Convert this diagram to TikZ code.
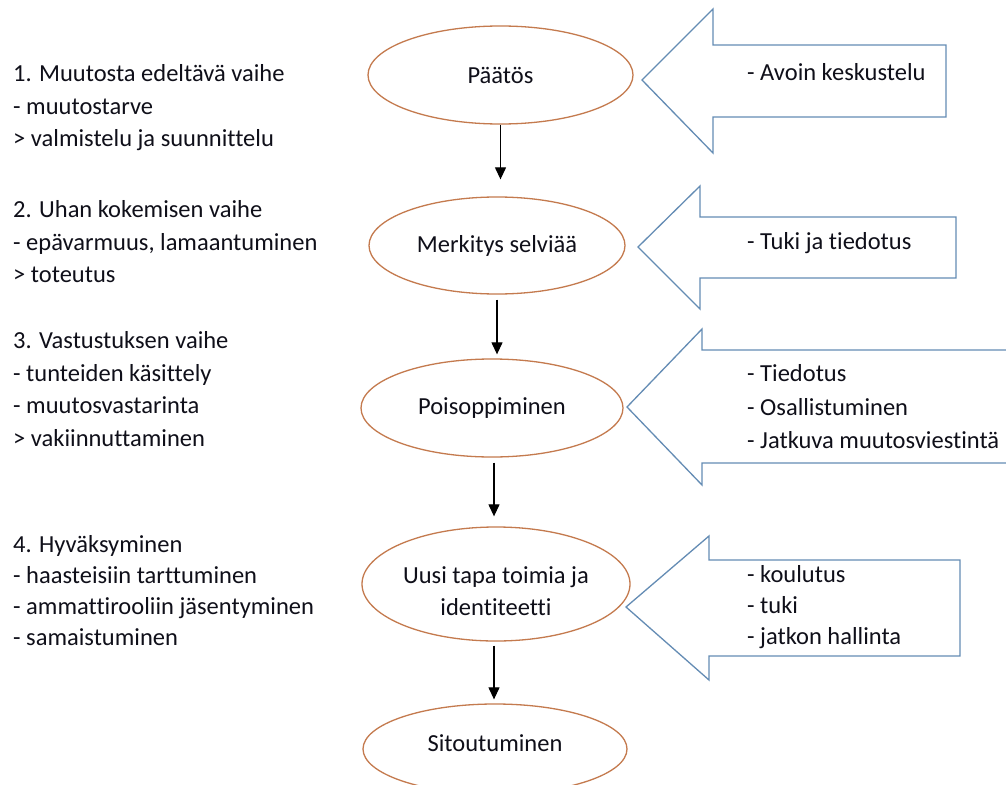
\documentclass[tikz,border=0pt]{standalone}
\usepackage{fontspec}
\setmainfont{Carlito}[Ligatures={NoCommon}]
\usetikzlibrary{shapes.geometric,arrows.meta}
\definecolor{ellc}{RGB}{196,122,78}
\definecolor{arrc}{RGB}{100,140,180}
\definecolor{txtc}{RGB}{15,15,25}
\newcommand{\dfs}[1]{\fontsize{24.5}{#1}\selectfont}
\newcommand{\firstl}{\rule{0pt}{20pt}}
\tikzset{
  ell/.style={ellipse, draw=ellc, line width=1.3pt, inner sep=0pt, fill=white, text=txtc, font=\dfs{32}, align=center},
  conn/.style={-{Triangle[width=11pt,length=12pt]}, line width=1.2pt, black},
  barrow/.style={draw=arrc, line width=1.3pt, line join=miter},
  txt/.style={anchor=north west, inner sep=0pt, align=left, text=txtc}
}
\begin{document}
\begin{tikzpicture}[x=1pt,y=-1pt]
\useasboundingbox[fill=white] (0,0) rectangle (1006,784);

% left column
\node[txt, font=\dfs{32.5}] (l1) at (13,61.5) {\firstl 1. Muutosta edeltävä vaihe\\- muutostarve\\> valmistelu ja suunnittelu};
\node[txt, font=\dfs{32.5}] (l2) at (13,197.5) {\firstl 2. Uhan kokemisen vaihe\\- epävarmuus, lamaantuminen\\> toteutus};
\node[txt, font=\dfs{32.5}] (l3) at (13,328.5) {\firstl 3. Vastustuksen vaihe\\- tunteiden käsittely\\- muutosvastarinta\\> vakiinnuttaminen};
\node[txt, font=\dfs{31}] (l4) at (13,532.5) {\firstl 4. Hyväksyminen\\- haasteisiin tarttuminen\\- ammattirooliin jäsentyminen\\- samaistuminen};

% block arrows
\draw[barrow] (642,80) -- (713,9) -- (713,45) -- (946,45) -- (946,117) -- (713,117) -- (713,153) -- cycle;
\draw[barrow] (638,247) -- (700,186) -- (700,217) -- (956,217) -- (956,278) -- (700,278) -- (700,309) -- cycle;
\draw[barrow] (627,407) -- (702,329) -- (702,350) -- (1012,350) -- (1012,463) -- (702,463) -- (702,485) -- cycle;
\draw[barrow] (626,607) -- (709,536) -- (709,560) -- (960,560) -- (960,656) -- (709,656) -- (709,680) -- cycle;

\node[txt, font=\dfs{33}] (r1) at (747,60.5) {\firstl - Avoin keskustelu};
\node[txt, font=\dfs{33}] (r2) at (747,229.5) {\firstl - Tuki ja tiedotus};
\node[txt, font=\dfs{33.5}] (r3) at (747,361.5) {\firstl - Tiedotus\\- Osallistuminen\\- Jatkuva muutosviestintä};
\node[txt, font=\dfs{31}] (r4) at (747,562.5) {\firstl - koulutus\\- tuki\\- jatkon hallinta};

% ellipses
\node[ell, minimum width=265pt, minimum height=98pt] (e1) at (500.5,75) {Päätös};
\node[ell, minimum width=256pt, minimum height=97pt] (e2) at (497,245.5) {Merkitys selviää};
\node[ell, minimum width=262pt, minimum height=98pt] (e3) at (492,408) {Poisoppiminen};
\node[ell, minimum width=268pt, minimum height=114pt] (e4) at (496,584) {\rule{0pt}{31pt}Uusi tapa toimia ja\\identiteetti};
\node[ell, minimum width=264pt, minimum height=90pt] (e5) at (495,749) {\raisebox{0pt}[10pt][6pt]{Sitoutuminen}};

% connectors
\draw[conn, shorten >=17pt] (e1.south) -- (e1.south |- e2.north);
\draw[conn, shorten <=5pt, shorten >=4pt] (e2.south) -- (e2.south |- e3.north);
\draw[conn, shorten <=5pt, shorten >=10pt] ([xshift=2pt]e3.south) -- ([xshift=2pt]e3.south |- e4.north);
\draw[conn, shorten <=4pt, shorten >=4pt] ([xshift=-2pt]e4.south) -- ([xshift=-2pt]e4.south |- e5.north);
\end{tikzpicture}
\end{document}
